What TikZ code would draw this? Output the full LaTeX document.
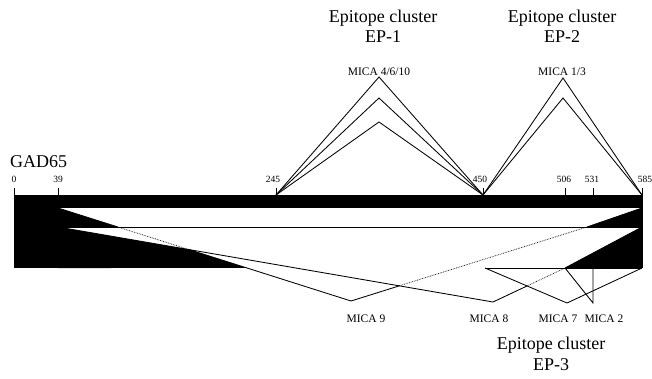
\documentclass[tikz,border=0pt]{standalone}
\usepackage{fontspec}
\setmainfont{Liberation Serif}
\begin{document}
\begin{tikzpicture}[x=1pt,y=-1pt,
  ln/.style={line width=0.85pt,line join=miter},
  dot/.style={line width=0.7pt,densely dotted},
  big/.style={font=\fontsize{18}{20}\selectfont,anchor=base,inner sep=0pt},
  mica/.style={font=\fontsize{11.5}{13}\selectfont,anchor=base,inner sep=0pt},
  tick/.style={font=\fontsize{9.5}{11}\selectfont,anchor=base,inner sep=0pt}]
\useasboundingbox (0,0) rectangle (652,379);
% key points
\coordinate (L0) at (14,195);
\coordinate (T39) at (58,195);
\coordinate (T245) at (276,195);
\coordinate (T450) at (483,195);
\coordinate (T506) at (565,195);
\coordinate (T531) at (593,195);
\coordinate (T585) at (642,195);
\coordinate (A) at (58,208);
\coordinate (B) at (58,227);
\coordinate (C) at (58,268);
\coordinate (RA) at (642,208);
\coordinate (RB) at (642,227);
\coordinate (RC) at (642,268);
\coordinate (M9) at (351,301);
\coordinate (M8) at (493,302);
\coordinate (M7) at (567,303);
\coordinate (M2) at (593,303);
\coordinate (C9) at (587,227);
\coordinate (C8) at (565,268);
\coordinate (Q7) at (485,268);
\coordinate (Q2) at (593,268);
% intersections
\coordinate (X1) at (intersection of A--M9 and B--M8);
\coordinate (Y1) at (intersection of A--M9 and C--RC);
\coordinate (Z1) at (intersection of A--M9 and B--RB);
\coordinate (X2) at (intersection of M9--C9 and B--M8);
\coordinate (X3) at (intersection of C8--M8 and Q7--M7);
% black regions
\fill (14,195) rectangle (642,208);
\fill (14,195) rectangle (C);
\fill (A) -- (Z1) -- (B) -- cycle;
\fill (B) -- (X1) -- (Y1) -- (C) -- cycle;
\fill (RA) -- (RB) -- (C9) -- cycle;
\fill (RB) -- (RC) -- (C8) -- cycle;
% band outlines
\draw[ln] (B) -- (RB);
\draw[ln] (T585) -- (RC);
\draw[ln] (Q7) -- (RC);
% ticks
\foreach \p in {L0,T39,T245,T450,T506,T531,T585}
  \draw[ln] (\p) -- ++(0,-7);
% tick labels
\node[tick] (n0) at (14,183) {0};
\node[tick] (n39) at (58,183) {39};
\node[tick] (n245) at (273,183) {245};
\node[tick] (n450) at (480,183) {450};
\node[tick] (n506) at (564,183) {506};
\node[tick] (n531) at (592,183) {531};
\node[tick] (n585) at (645,183) {585};
\node[big,anchor=base west] (gad) at (10,168) {GAD65};
% top epitope clusters
\coordinate (E1a) at (379,77);
\coordinate (E1b) at (379,98);
\coordinate (E1c) at (379,122);
\coordinate (E2a) at (563,78);
\coordinate (E2b) at (563,98);
\draw[ln] (T245) -- (E1a) -- (T450);
\draw[ln] (T245) -- (E1b) -- (T450);
\draw[ln] (T245) -- (E1c) -- (T450);
\draw[ln] (T450) -- (E2a) -- (T585);
\draw[ln] (T450) -- (E2b) -- (T585);
\node[mica] (m4) at (379,76) {MICA 4/6/10};
\node[mica] (m13) at (562,76) {MICA 1/3};
\node[big] (ep1a) at (383,23) {Epitope cluster};
\node[big] (ep1b) at (383,43) {EP-1};
\node[big] (ep2a) at (562,23) {Epitope cluster};
\node[big] (ep2b) at (562,43) {EP-2};
% MICA 9
\draw[ln] (A) -- (Z1);
\draw[dot] (Z1) -- (X1);
\draw[ln] (X1) -- (M9) -- (X2);
\draw[dot] (X2) -- (C9);
\draw[ln] (C9) -- (RA);
% MICA 8
\draw[ln] (B) -- (M8) -- (X3);
\draw[dot] (X3) -- (C8);
\draw[ln] (C8) -- (RB);
% MICA 7
\draw[ln] (Q7) -- (M7) -- (RC);
% MICA 2
\draw[ln] (C8) -- (M2) -- (Q2);
% labels
\node[mica] (m9) at (366,322) {MICA 9};
\node[mica] (m8) at (489,322) {MICA 8};
\node[mica] (m7) at (558,322) {MICA 7};
\node[mica] (m2) at (604,322) {MICA 2};
\node[big] (ep3a) at (551,349) {Epitope cluster};
\node[big] (ep3b) at (551,370) {EP-3};
\end{tikzpicture}
\end{document}
